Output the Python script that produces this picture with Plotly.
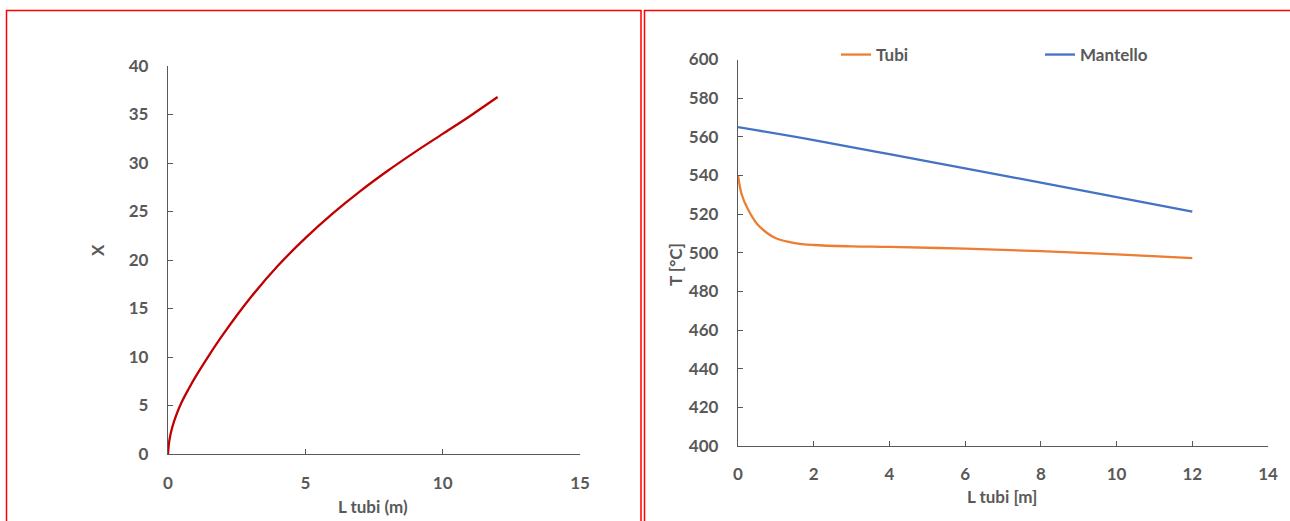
import plotly.graph_objects as go

# Left panel: X as a function of tube length
l_tubi_x = [0, 0.05, 0.15, 0.3, 0.5, 0.75, 1, 1.5, 2, 3, 4, 5, 6, 7, 8, 9, 10, 11, 12]
x_values = [0, 1.4, 2.7, 4.0, 5.35, 6.7, 7.95, 10.2, 12.3, 16.1, 19.4, 22.25, 24.8, 27.1, 29.2, 31.15, 33.0, 34.85, 36.8]

# Right panel: temperature profiles along the tubes
l_tubi_t = [0, 0.1, 0.25, 0.5, 0.75, 1, 1.5, 2, 3, 4, 6, 8, 10, 12]
t_tubi = [540, 530, 523, 515, 510.5, 507.5, 505, 504, 503.3, 503, 502.1, 500.8, 499.2, 497.2]
l_mantello = [0, 2, 4, 6, 8, 10, 12]
t_mantello = [565, 558.3, 551.0, 543.6, 536.3, 528.8, 521.3]

W, H = 1290, 521
FONT = "Lato"
GREY = "#595959"


def px(v):
    return v / W


def py(v):
    return 1 - v / H


fig = go.Figure()

fig.add_trace(go.Scatter(
    x=l_tubi_x, y=x_values, mode="lines", line=dict(color="#C00000", width=2.3, shape="spline"),
    xaxis="x", yaxis="y", showlegend=False,
))
fig.add_trace(go.Scatter(
    x=l_tubi_t, y=t_tubi, mode="lines", name="Tubi",
    line=dict(color="#ED7D31", width=2.3, shape="spline"),
    xaxis="x2", yaxis="y2",
))
fig.add_trace(go.Scatter(
    x=l_mantello, y=t_mantello, mode="lines", name="Mantello",
    line=dict(color="#4472C4", width=2.3, shape="spline"),
    xaxis="x2", yaxis="y2",
))

axis_common = dict(
    showgrid=False, zeroline=False, showline=True, linecolor=GREY, linewidth=1.3,
    ticks="inside", ticklen=5, tickcolor=GREY, tickwidth=1.3,
    tickfont=dict(family=FONT, size=17, color=GREY, weight="bold"),
)

fig.update_layout(
    width=W, height=H, margin=dict(l=0, r=0, t=0, b=0, autoexpand=False),
    paper_bgcolor="white", plot_bgcolor="white",
    xaxis=dict(domain=[px(168), px(580)], range=[0, 15], dtick=5, anchor="y",
               ticklabelstandoff=13, **axis_common),
    yaxis=dict(domain=[py(454), py(66)], range=[0, 40], dtick=5, anchor="x",
               ticklabelstandoff=15, **axis_common),
    xaxis2=dict(domain=[px(738), px(1268)], range=[0, 14], dtick=2, anchor="y2",
                ticklabelstandoff=12, **axis_common),
    yaxis2=dict(domain=[py(446), py(59.5)], range=[400, 600], dtick=20, anchor="x2",
                ticklabelstandoff=15, **axis_common),
    legend=dict(
        orientation="h", x=px(836), y=py(37), xanchor="left", yanchor="top",
        entrywidth=159, entrywidthmode="pixels", itemwidth=30,
        font=dict(family=FONT, size=17, color=GREY, weight="bold"),
        bgcolor="rgba(0,0,0,0)", borderwidth=0,
    ),
    showlegend=True,
)

title_font = dict(family=FONT, size=17, color=GREY, weight="bold")
titles = [
    ("X", 97, 250, -90),
    ("L tubi (m)", 373, 506, 0),
    ("T [°C]", 675, 265, -90),
    ("L tubi [m]", 1002, 496, 0),
]
for text, tx, ty, angle in titles:
    fig.add_annotation(text=text, x=px(tx), y=py(ty), xref="paper", yref="paper",
                       xanchor="center", yanchor="middle", showarrow=False,
                       textangle=angle, font=title_font)

# Red frames around the two panels
fig.add_shape(type="rect", xref="paper", yref="paper",
              x0=px(6.5), x1=px(641), y0=py(530), y1=py(10.5),
              line=dict(color="#FF0000", width=1.5))
fig.add_shape(type="rect", xref="paper", yref="paper",
              x0=px(644.5), x1=px(1300), y0=py(530), y1=py(10.5),
              line=dict(color="#FF0000", width=1.5))

fig.write_html("out.html")
